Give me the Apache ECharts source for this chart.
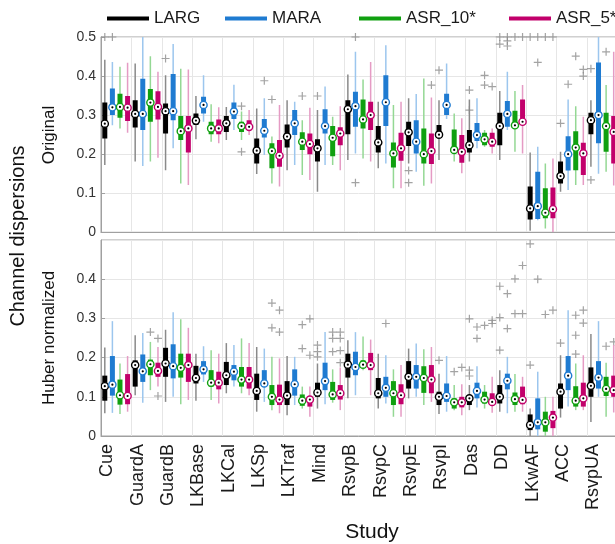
<!DOCTYPE html>
<html>
<head>
<meta charset="utf-8">
<script src="https://cdn.jsdelivr.net/npm/echarts@6/dist/echarts.min.js"></script>
<style>
  html, body { margin: 0; padding: 0; background: #fff; }
  #chart { width: 615px; height: 544px; }
</style>
</head>
<body>
<div id="chart"></div>
<script>
var studies = ["Cue", "GuardA", "GuardB", "LKBase", "LKCal", "LKSp", "LKTraf", "Mind",
  "RsvpB", "RsvpC", "RsvpE", "RsvpI", "Das", "DD", "LKwAF", "ACC", "RsvpUA"];
var methods = ["LARG", "MARA", "ASR_10*", "ASR_5*"];
var yTicks = [0, 0.1, 0.2, 0.3, 0.4, 0.5];

// box stats per study: [min, Q1, median, Q3, max]
// Original
var origLARG = [[.172,.240,.278,.332,.442],[.181,.268,.303,.338,.432],[.159,.253,.310,.330,.402],[.238,.275,.286,.304,.349],
  [.236,.257,.279,.298,.321],[.149,.176,.209,.240,.317],[.159,.217,.245,.276,.338],[.104,.181,.215,.238,.313],
  [.185,.251,.315,.338,.404],[.164,.204,.230,.272,.334],[.176,.221,.256,.283,.343],[.185,.243,.250,.275,.338],
  [.181,.204,.223,.262,.340],[.185,.223,.272,.306,.362],[.004,.033,.061,.117,.204],[.104,.125,.144,.181,.206],
  [.168,.251,.287,.306,.338]];
var origMARA = [[.274,.300,.320,.368,.436],[.170,.262,.303,.393,.500],[.215,.287,.310,.405,.482],[.283,.304,.326,.347,.402],
  [.262,.290,.309,.332,.378],[.198,.243,.260,.290,.343],[.172,.249,.279,.313,.334],[.172,.253,.272,.315,.373],
  [.202,.270,.323,.360,.462],[.176,.272,.333,.402,.479],[.155,.202,.232,.287,.354],[.290,.300,.326,.355,.432],
  [.215,.234,.249,.280,.343],[.262,.270,.303,.336,.411],[.031,.034,.067,.155,.219],[.108,.158,.200,.246,.340],
  [.150,.228,.300,.435,.500]];
var origASR10 = [[.266,.293,.321,.355,.424],[.181,.283,.332,.367,.451],[.125,.236,.259,.298,.419],[.232,.251,.266,.283,.328],
  [.236,.257,.272,.283,.309],[.125,.164,.208,.228,.245],[.147,.211,.232,.256,.287],[.172,.195,.242,.272,.296],
  [.189,.266,.289,.340,.391],[.113,.166,.202,.230,.326],[.119,.176,.200,.266,.394],[.181,.206,.211,.263,.304],
  [.219,.223,.238,.255,.262],[.206,.270,.274,.311,.362],[.010,.036,.050,.113,.176],[.121,.159,.217,.259,.323],
  [.155,.206,.272,.306,.377]];
var origASR5 = [[.255,.285,.319,.349,.434],[.191,.289,.321,.361,.411],[.121,.204,.266,.298,.417],[.228,.251,.266,.289,.320],
  [.249,.262,.270,.287,.313],[.117,.168,.196,.236,.326],[.134,.200,.226,.253,.319],[.159,.223,.253,.269,.323],
  [.181,.262,.300,.334,.436],[.113,.183,.215,.255,.334],[.125,.175,.208,.253,.345],[.151,.178,.206,.249,.292],
  [.202,.219,.232,.255,.266],[.202,.279,.283,.340,.377],[0,.036,.059,.115,.189],[.121,.147,.202,.229,.296],
  [.120,.176,.257,.298,.462]];
// Huber normalized
var hubLARG = [[.058,.090,.127,.154,.226],[.104,.126,.181,.193,.257],[.087,.151,.185,.225,.271],[.090,.134,.148,.179,.210],
  [.109,.130,.155,.189,.237],[.062,.092,.115,.159,.227],[.053,.079,.103,.140,.204],[.070,.100,.111,.136,.185],
  [.096,.149,.182,.210,.244],[.070,.096,.109,.148,.210],[.096,.121,.151,.191,.223],[.056,.079,.100,.113,.159],
  [.066,.079,.096,.102,.130],[.062,.083,.100,.130,.168],[0,.015,.028,.055,.070],[.047,.070,.113,.134,.206],
  [.036,.100,.128,.175,.260]];
var hubMARA = [[.059,.103,.131,.204,.293],[.085,.138,.165,.208,.263],[.100,.147,.178,.234,.316],[.138,.157,.170,.191,.229],
  [.126,.142,.164,.181,.232],[.087,.126,.134,.168,.223],[.079,.103,.132,.170,.202],[.081,.117,.140,.187,.265],
  [.104,.155,.176,.215,.265],[.083,.100,.123,.151,.206],[.100,.121,.151,.181,.236],[.062,.087,.102,.134,.204],
  [.073,.096,.115,.136,.178],[.058,.119,.141,.159,.202],[0,.017,.035,.096,.164],[.075,.117,.154,.204,.321],
  [.100,.121,.149,.191,.293]];
var hubASR10 = [[.056,.080,.104,.144,.185],[.117,.155,.183,.195,.240],[.081,.149,.174,.210,.298],[.092,.126,.136,.168,.219],
  [.109,.126,.144,.176,.249],[.066,.079,.100,.130,.202],[.070,.077,.090,.106,.126],[.085,.092,.106,.138,.170],
  [.168,.175,.182,.193,.254],[.049,.079,.109,.140,.170],[.079,.110,.148,.178,.221],[.066,.070,.086,.096,.130],
  [.070,.083,.093,.113,.130],[.062,.079,.094,.111,.158],[0,.011,.035,.062,.100],[.066,.075,.090,.127,.185],
  [.049,.102,.120,.151,.187]];
var hubASR5 = [[.062,.081,.102,.158,.204],[.126,.151,.166,.187,.227],[.092,.138,.181,.210,.276],[.083,.119,.136,.164,.210],
  [.104,.121,.144,.176,.237],[.058,.079,.093,.131,.198],[.049,.075,.093,.100,.126],[.066,.093,.109,.130,.175],
  [.104,.168,.181,.212,.246],[.049,.081,.104,.132,.181],[.087,.109,.144,.181,.227],[.053,.073,.086,.100,.132],
  [.059,.079,.087,.109,.151],[.062,.081,.092,.126,.151],[0,.020,.047,.064,.100],[.066,.075,.096,.136,.206],
  [.060,.100,.117,.154,.232]];

// outliers: [study index, method index, value]
var origOutliers = [[0,0,.5],[0,1,.5],[2,0,.445],[4,2,.323],[4,2,.206],[5,1,.388],[5,2,.340],[6,2,.349],[7,0,.349],
  [8,1,.5],[8,1,.127],[10,0,.158],[10,0,.127],[10,3,.377],[11,0,.415],[12,0,.364],[12,0,.313],[12,2,.402],[12,2,.377],
  [12,3,.373],[13,0,.5],[13,0,.482],[13,1,.5],[13,1,.49],[13,1,.477],[13,2,.5],[13,3,.5],[14,0,.5],[14,1,.5],
  [14,1,.435],[14,2,.5],[14,3,.5],[15,0,.279],[15,1,.379],[15,2,.451],[15,3,.417],[15,3,.400],[16,0,.419],
  [16,0,.134],[16,2,.462]];
var hubOutliers = [[1,2,.265],[1,3,.249],[1,3,.102],[5,2,.339],[5,2,.276],[5,3,.321],[5,3,.265],[6,2,.284],[6,2,.223],
  [6,3,.299],[6,3,.206],[7,0,.232],[7,0,.215],[7,0,.202],[7,2,.265],[7,2,.249],[7,2,.215],[7,3,.265],[7,3,.249],
  [7,3,.218],[7,3,.187],[9,1,.287],[11,0,.193],[11,2,.164],[11,3,.175],[12,0,.299],[12,0,.168],[12,0,.153],
  [12,1,.278],[12,1,.249],[12,2,.282],[12,3,.295],[12,3,.287],[13,0,.382],[13,0,.302],[13,0,.219],[13,1,.363],
  [13,1,.274],[13,2,.401],[13,2,.312],[13,3,.435],[13,3,.312],[14,0,.490],[14,0,.181],[14,1,.400],[14,2,.310],
  [14,3,.321],[15,0,.237],[15,2,.308],[15,2,.257],[15,2,.209],[15,3,.321],[15,3,.288],[16,2,.229],[16,3,.240]];

var colors = ["#000000", "#1f7bd1", "#10a010", "#c2006b"];
var whiskerColors = ["#8a8a8a", "#9cc6ee", "#94d894", "#e59bc4"];
var panels = [[origLARG, origMARA, origASR10, origASR5], [hubLARG, hubMARA, hubASR10, hubASR5]];
var panelOutliers = [origOutliers, hubOutliers];

var slots = [];
studies.forEach(function (s) { methods.forEach(function (m) { slots.push(s + " " + m); }); });

function boxRenderer(color, wcolor) {
  return function (params, api) {
    var x = api.value(0);
    var lo = api.coord([x, api.value(1)]);
    var q1 = api.coord([x, api.value(2)]);
    var md = api.coord([x, api.value(3)]);
    var q3 = api.coord([x, api.value(4)]);
    var hi = api.coord([x, api.value(5)]);
    var cx = md[0], w = 5;
    return {
      type: "group",
      children: [
        { type: "line", shape: { x1: cx, y1: hi[1], x2: cx, y2: lo[1] }, style: { stroke: wcolor, lineWidth: 1.5 } },
        { type: "rect", shape: { x: cx - w / 2, y: q3[1], width: w, height: q1[1] - q3[1] }, style: { fill: color } },
        { type: "circle", shape: { cx: cx, cy: md[1], r: 3.6 }, style: { fill: "#fff", stroke: color, lineWidth: 1.4 } },
        { type: "circle", shape: { cx: cx, cy: md[1], r: 1.1 }, style: { fill: "#000" } }
      ]
    };
  };
}

var series = [];
panels.forEach(function (boxes, p) {
  boxes.forEach(function (arr, m) {
    series.push({
      type: "custom",
      name: methods[m],
      xAxisIndex: p * 2,
      yAxisIndex: p,
      renderItem: boxRenderer(colors[m], whiskerColors[m]),
      encode: { x: 0, y: [1, 2, 3, 4, 5] },
      itemStyle: { color: colors[m] },
      clip: true,
      z: 3,
      data: arr.map(function (b, i) { return [i * 4 + m].concat(b); })
    });
  });
  series.push({
    type: "scatter",
    xAxisIndex: p * 2,
    yAxisIndex: p,
    symbol: "path://M8.5,0H11.5V20H8.5ZM0,8.5H20V11.5H0Z",
    symbolSize: 8,
    itemStyle: { color: "#8c8c8c" },
    silent: true,
    clip: false,
    z: 2,
    data: panelOutliers[p].map(function (o) { return [o[0] * 4 + o[1], o[2]]; })
  });
});

var font = "Liberation Sans";
var legendLeft = [107, 225, 359, 509];
var chart = echarts.init(document.getElementById("chart"));
chart.setOption({
  animation: false,
  legend: methods.map(function (m, i) {
    return {
      data: [{ name: m, icon: "rect" }],
      left: legendLeft[i], top: 10, padding: 0,
      itemWidth: 42, itemHeight: 4,
      selectedMode: false,
      textStyle: { fontSize: 17, fontFamily: font, color: "#1a1a1a" }
    };
  }),
  grid: [
    { left: 101, top: 37, width: 516.5, height: 195.3, show: true, borderColor: "#a0a0a0", outerBoundsMode: "none" },
    { left: 101, top: 240, width: 516.5, height: 196, show: true, borderColor: "#a0a0a0", outerBoundsMode: "none" }
  ],
  xAxis: [0, 1].reduce(function (acc, p) {
    acc.push({ gridIndex: p, type: "category", data: slots, show: false, position: "top" });
    acc.push({
      gridIndex: p, type: "category", data: studies, position: "bottom",
      axisLine: { show: true, lineStyle: { color: "#a0a0a0" } },
      axisTick: { show: false },
      splitLine: { show: true, interval: 0, lineStyle: { color: "#e6e6e6" } },
      axisLabel: {
        show: p === 1, interval: 0, rotate: 90, margin: 8, verticalAlign: "bottom",
        fontSize: 18, fontFamily: font, color: "#1a1a1a"
      }
    });
    return acc;
  }, []),
  yAxis: [0, 1].map(function (p) {
    return {
      gridIndex: p, type: "value", min: yTicks[0], max: yTicks[yTicks.length - 1], interval: 0.1,
      axisLine: { show: true, lineStyle: { color: "#a0a0a0" } },
      axisTick: { show: true, inside: true, length: 4, lineStyle: { color: "#a0a0a0" } },
      axisLabel: {
        color: "#333", fontSize: 14, fontFamily: font, margin: 5,
        showMaxLabel: p === 0,
        formatter: function (v) { return String(+v.toFixed(1)); }
      },
      splitLine: { show: true, lineStyle: { color: "#e6e6e6" } }
    };
  }),
  graphic: [
    { type: "text", x: 18, y: 236, rotation: Math.PI / 2,
      style: { text: "Channel dispersions", font: "20px " + font, fill: "#111", align: "center", verticalAlign: "middle" } },
    { type: "text", x: 49, y: 135, rotation: Math.PI / 2,
      style: { text: "Original", font: "17px " + font, fill: "#111", align: "center", verticalAlign: "middle" } },
    { type: "text", x: 49, y: 338, rotation: Math.PI / 2,
      style: { text: "Huber normalized", font: "17px " + font, fill: "#111", align: "center", verticalAlign: "middle" } },
    { type: "text", x: 372, y: 532,
      style: { text: "Study", font: "21px " + font, fill: "#111", align: "center", verticalAlign: "middle" } }
  ],
  series: series
});
</script>
</body>
</html>
